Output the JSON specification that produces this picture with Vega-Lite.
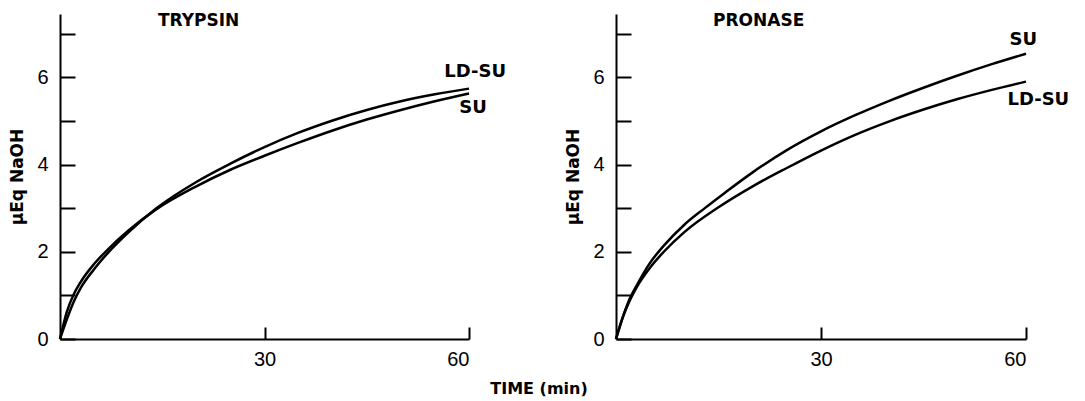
{
  "$schema": "https://vega.github.io/schema/vega-lite/v6.json",
  "background": "white",
  "padding": {"left": 8, "top": 12, "right": 5, "bottom": 0},
  "bounds": "flush",
  "spacing": 147,
  "datasets": {
    "curves": [
      {"panel": "TRYPSIN", "series": "SU", "t": 0, "v": 0},
      {"panel": "TRYPSIN", "series": "SU", "t": 1, "v": 0.62},
      {"panel": "TRYPSIN", "series": "SU", "t": 2, "v": 1.02},
      {"panel": "TRYPSIN", "series": "SU", "t": 3, "v": 1.3},
      {"panel": "TRYPSIN", "series": "SU", "t": 5, "v": 1.72},
      {"panel": "TRYPSIN", "series": "SU", "t": 7, "v": 2.05},
      {"panel": "TRYPSIN", "series": "SU", "t": 10, "v": 2.48},
      {"panel": "TRYPSIN", "series": "SU", "t": 14, "v": 2.96},
      {"panel": "TRYPSIN", "series": "SU", "t": 20, "v": 3.5},
      {"panel": "TRYPSIN", "series": "SU", "t": 25, "v": 3.88},
      {"panel": "TRYPSIN", "series": "SU", "t": 30, "v": 4.2},
      {"panel": "TRYPSIN", "series": "SU", "t": 35, "v": 4.5},
      {"panel": "TRYPSIN", "series": "SU", "t": 40, "v": 4.78},
      {"panel": "TRYPSIN", "series": "SU", "t": 45, "v": 5.03},
      {"panel": "TRYPSIN", "series": "SU", "t": 50, "v": 5.25},
      {"panel": "TRYPSIN", "series": "SU", "t": 55, "v": 5.45},
      {"panel": "TRYPSIN", "series": "SU", "t": 60, "v": 5.63},
      {"panel": "TRYPSIN", "series": "LD-SU", "t": 0, "v": 0},
      {"panel": "TRYPSIN", "series": "LD-SU", "t": 1, "v": 0.45},
      {"panel": "TRYPSIN", "series": "LD-SU", "t": 2, "v": 0.85},
      {"panel": "TRYPSIN", "series": "LD-SU", "t": 3, "v": 1.16},
      {"panel": "TRYPSIN", "series": "LD-SU", "t": 5, "v": 1.6},
      {"panel": "TRYPSIN", "series": "LD-SU", "t": 7, "v": 1.97},
      {"panel": "TRYPSIN", "series": "LD-SU", "t": 10, "v": 2.44},
      {"panel": "TRYPSIN", "series": "LD-SU", "t": 14, "v": 2.98},
      {"panel": "TRYPSIN", "series": "LD-SU", "t": 20, "v": 3.6},
      {"panel": "TRYPSIN", "series": "LD-SU", "t": 25, "v": 4.02},
      {"panel": "TRYPSIN", "series": "LD-SU", "t": 30, "v": 4.4},
      {"panel": "TRYPSIN", "series": "LD-SU", "t": 35, "v": 4.73},
      {"panel": "TRYPSIN", "series": "LD-SU", "t": 40, "v": 5.01},
      {"panel": "TRYPSIN", "series": "LD-SU", "t": 45, "v": 5.25},
      {"panel": "TRYPSIN", "series": "LD-SU", "t": 50, "v": 5.45},
      {"panel": "TRYPSIN", "series": "LD-SU", "t": 55, "v": 5.61},
      {"panel": "TRYPSIN", "series": "LD-SU", "t": 60, "v": 5.74},
      {"panel": "PRONASE", "series": "SU", "t": 0, "v": 0},
      {"panel": "PRONASE", "series": "SU", "t": 1, "v": 0.5},
      {"panel": "PRONASE", "series": "SU", "t": 2, "v": 0.92},
      {"panel": "PRONASE", "series": "SU", "t": 3, "v": 1.22},
      {"panel": "PRONASE", "series": "SU", "t": 5, "v": 1.75},
      {"panel": "PRONASE", "series": "SU", "t": 7, "v": 2.14},
      {"panel": "PRONASE", "series": "SU", "t": 10, "v": 2.62},
      {"panel": "PRONASE", "series": "SU", "t": 13, "v": 3.0},
      {"panel": "PRONASE", "series": "SU", "t": 16, "v": 3.36},
      {"panel": "PRONASE", "series": "SU", "t": 20, "v": 3.82},
      {"panel": "PRONASE", "series": "SU", "t": 25, "v": 4.33},
      {"panel": "PRONASE", "series": "SU", "t": 30, "v": 4.76},
      {"panel": "PRONASE", "series": "SU", "t": 35, "v": 5.13},
      {"panel": "PRONASE", "series": "SU", "t": 40, "v": 5.46},
      {"panel": "PRONASE", "series": "SU", "t": 45, "v": 5.76},
      {"panel": "PRONASE", "series": "SU", "t": 50, "v": 6.04},
      {"panel": "PRONASE", "series": "SU", "t": 55, "v": 6.3},
      {"panel": "PRONASE", "series": "SU", "t": 60, "v": 6.54},
      {"panel": "PRONASE", "series": "LD-SU", "t": 0, "v": 0},
      {"panel": "PRONASE", "series": "LD-SU", "t": 1, "v": 0.5},
      {"panel": "PRONASE", "series": "LD-SU", "t": 2, "v": 0.88},
      {"panel": "PRONASE", "series": "LD-SU", "t": 3, "v": 1.18},
      {"panel": "PRONASE", "series": "LD-SU", "t": 5, "v": 1.64},
      {"panel": "PRONASE", "series": "LD-SU", "t": 7, "v": 2.0},
      {"panel": "PRONASE", "series": "LD-SU", "t": 10, "v": 2.45},
      {"panel": "PRONASE", "series": "LD-SU", "t": 15, "v": 3.02},
      {"panel": "PRONASE", "series": "LD-SU", "t": 20, "v": 3.5},
      {"panel": "PRONASE", "series": "LD-SU", "t": 25, "v": 3.92},
      {"panel": "PRONASE", "series": "LD-SU", "t": 30, "v": 4.32},
      {"panel": "PRONASE", "series": "LD-SU", "t": 35, "v": 4.68},
      {"panel": "PRONASE", "series": "LD-SU", "t": 40, "v": 4.99},
      {"panel": "PRONASE", "series": "LD-SU", "t": 45, "v": 5.26},
      {"panel": "PRONASE", "series": "LD-SU", "t": 50, "v": 5.5},
      {"panel": "PRONASE", "series": "LD-SU", "t": 55, "v": 5.71},
      {"panel": "PRONASE", "series": "LD-SU", "t": 60, "v": 5.9}
    ],
    "labels": [
      {"panel": "TRYPSIN", "label": "LD-SU", "t": 60.9, "v": 6.13},
      {"panel": "TRYPSIN", "label": "SU", "t": 60.6, "v": 5.29},
      {"panel": "PRONASE", "label": "SU", "t": 59.6, "v": 6.86},
      {"panel": "PRONASE", "label": "LD-SU", "t": 61.8, "v": 5.47}
    ]
  },
  "title": {
    "text": "TIME (min)",
    "orient": "bottom",
    "anchor": "middle",
    "font": "DejaVu Sans",
    "fontWeight": "bold",
    "fontSize": 16,
    "color": "black",
    "offset": 12
  },
  "hconcat": [
    {
      "width": 409,
      "height": 325,
      "title": {"text": "TRYPSIN", "anchor": "start", "frame": "group", "dx": 98, "dy": 29, "offset": 0, "baseline": "alphabetic"},
      "layer": [
        {
          "data": {"name": "curves"},
          "transform": [{"filter": "datum.panel === 'TRYPSIN'"}],
          "mark": {"type": "line", "interpolate": "monotone", "color": "black", "strokeWidth": 2.5},
          "encoding": {
            "x": {"field": "t", "type": "quantitative", "scale": {"domain": [0, 60], "nice": false}, "axis": {"title": null, "values": [30, 60]}},
            "y": {"field": "v", "type": "quantitative", "scale": {"domain": [0, 7.45], "nice": false}, "axis": {"title": "µEq NaOH", "values": [0, 1, 2, 3, 4, 5, 6, 7], "labelExpr": "datum.value % 2 === 0 ? datum.label : ''"}},
            "detail": {"field": "series"}
          }
        },
        {
          "data": {"name": "labels"},
          "transform": [{"filter": "datum.panel === 'TRYPSIN'"}],
          "mark": {"type": "text", "font": "DejaVu Sans", "fontWeight": "bold", "fontSize": 18, "color": "black"},
          "encoding": {
            "x": {"field": "t", "type": "quantitative"},
            "y": {"field": "v", "type": "quantitative"},
            "text": {"field": "label"}
          }
        }
      ]
    },
    {
      "width": 410,
      "height": 325,
      "title": {"text": "PRONASE", "anchor": "start", "frame": "group", "dx": 97, "dy": 29, "offset": 0, "baseline": "alphabetic"},
      "layer": [
        {
          "data": {"name": "curves"},
          "transform": [{"filter": "datum.panel === 'PRONASE'"}],
          "mark": {"type": "line", "interpolate": "monotone", "color": "black", "strokeWidth": 2.5},
          "encoding": {
            "x": {"field": "t", "type": "quantitative", "scale": {"domain": [0, 60], "nice": false}, "axis": {"title": null, "values": [30, 60]}},
            "y": {"field": "v", "type": "quantitative", "scale": {"domain": [0, 7.45], "nice": false}, "axis": {"title": "µEq NaOH", "values": [0, 1, 2, 3, 4, 5, 6, 7], "labelExpr": "datum.value % 2 === 0 ? datum.label : ''"}},
            "detail": {"field": "series"}
          }
        },
        {
          "data": {"name": "labels"},
          "transform": [{"filter": "datum.panel === 'PRONASE'"}],
          "mark": {"type": "text", "font": "DejaVu Sans", "fontWeight": "bold", "fontSize": 18, "color": "black"},
          "encoding": {
            "x": {"field": "t", "type": "quantitative"},
            "y": {"field": "v", "type": "quantitative"},
            "text": {"field": "label"}
          }
        }
      ]
    }
  ],
  "config": {
    "view": {"stroke": null},
    "axis": {
      "grid": false,
      "domainColor": "black",
      "domainWidth": 2,
      "tickColor": "black",
      "tickWidth": 2,
      "labelFont": "Liberation Sans",
      "labelFontSize": 20,
      "labelColor": "black",
      "titleFont": "DejaVu Sans",
      "titleFontWeight": "bold",
      "titleFontSize": 17,
      "titleColor": "black"
    },
    "axisX": {"tickSize": -12, "labelPadding": 22},
    "axisY": {"tickSize": -15, "labelPadding": 27, "titlePadding": 10},
    "title": {"font": "DejaVu Sans", "fontWeight": "bold", "fontSize": 17, "color": "black"}
  }
}
